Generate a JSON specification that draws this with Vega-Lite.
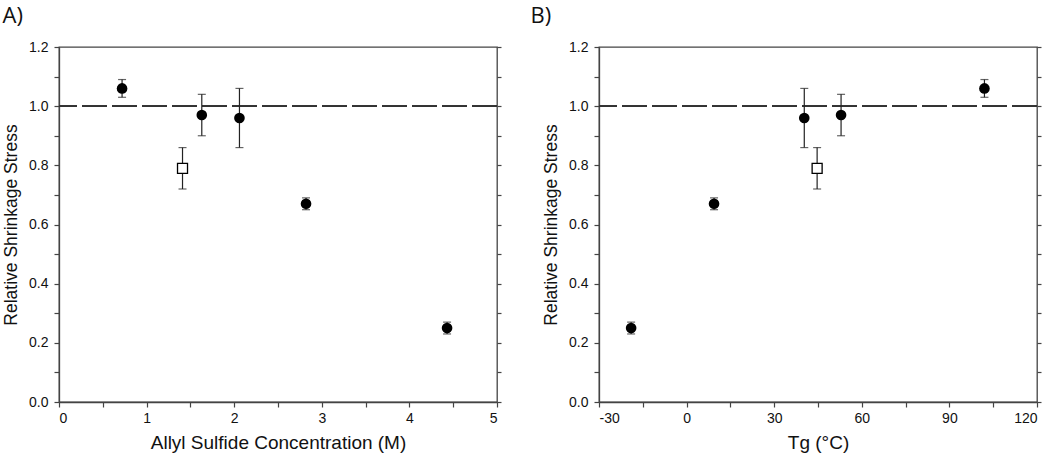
{
  "$schema": "https://vega.github.io/schema/vega-lite/v6.json",
  "background": "white",
  "padding": {"left": 1, "top": 4, "right": 0, "bottom": 2},
  "datasets": {
    "pts": [
      {"conc": 0.72, "tg": 102, "y": 1.06, "lo": 1.03, "hi": 1.09, "type": "filled"},
      {"conc": 1.41, "tg": 44.7, "y": 0.79, "lo": 0.72, "hi": 0.86, "type": "open"},
      {"conc": 1.63, "tg": 52.9, "y": 0.97, "lo": 0.90, "hi": 1.04, "type": "filled"},
      {"conc": 2.06, "tg": 40.3, "y": 0.96, "lo": 0.86, "hi": 1.06, "type": "filled"},
      {"conc": 2.82, "tg": 9.4, "y": 0.67, "lo": 0.65, "hi": 0.69, "type": "filled"},
      {"conc": 4.43, "tg": -19, "y": 0.25, "lo": 0.23, "hi": 0.27, "type": "filled"}
    ]
  },
  "config": {
    "view": {"stroke": "#444", "strokeWidth": 1.3},
    "axis": {
      "domainColor": "#444", "domainWidth": 1.3, "tickColor": "#444", "tickWidth": 1.2, "tickSize": 5,
      "labelFont": "Liberation Sans", "titleFont": "Liberation Sans",
      "labelFontSize": 14, "titleFontSize": 17.5, "titleFontWeight": "normal",
      "labelColor": "#111", "titleColor": "#111", "grid": false, "labelPadding": 3
    },
    "axisLeft": {"labelPadding": 6, "titlePadding": 8},
    "axisX": {"titleFontSize": 19, "titlePadding": 8, "labelPadding": 4},
    "title": {"font": "Open Sans", "fontSize": 22, "fontWeight": "normal", "anchor": "start", "frame": "bounds", "color": "#111", "offset": 12},
    "concat": {"spacing": 26}
  },
  "hconcat": [
    {
      "title": {"text": "A)"},
      "width": 438, "height": 355,
      "data": {"name": "pts"},
      "layer": [
        {
          "mark": {"type": "rule", "strokeDash": [25, 5], "color": "#333", "strokeWidth": 1.3},
          "encoding": {
            "y": {"datum": 1, "type": "quantitative", "scale": {"domain": [0, 1.2], "nice": false, "zero": false},
              "axis": {"orient": "right", "labels": false, "title": null, "domain": false, "tickSize": 4,
                "values": [0, 0.1, 0.2, 0.3, 0.4, 0.5, 0.6, 0.7, 0.8, 0.9, 1.0, 1.1, 1.2]}}
          }
        },
        {
          "mark": {"type": "errorbar", "color": "#222", "rule": {"strokeWidth": 1.2}, "ticks": {"size": 8, "thickness": 1.2}},
          "encoding": {
            "x": {"field": "conc", "type": "quantitative", "scale": {"domain": [0, 5], "nice": false, "zero": false},
              "axis": {"title": "Allyl Sulfide Concentration (M)", "values": [0, 0.5, 1, 1.5, 2, 2.5, 3, 3.5, 4, 4.5, 5],
                "labelExpr": "datum.value % 1 == 0 ? '' + datum.value : ''"}},
            "y": {"field": "lo", "type": "quantitative", "scale": {"domain": [0, 1.2], "nice": false, "zero": false},
              "axis": {"orient": "left", "title": "Relative Shrinkage Stress", "values": [0, 0.1, 0.2, 0.3, 0.4, 0.5, 0.6, 0.7, 0.8, 0.9, 1.0, 1.1, 1.2],
                "labelExpr": "round(datum.value * 10) % 2 == 0 ? format(datum.value, '.1f') : ''"}},
            "y2": {"field": "hi"}
          }
        },
        {
          "transform": [{"filter": "datum.type == 'filled'"}],
          "mark": {"type": "point", "shape": "circle", "filled": true, "color": "#000", "size": 113, "opacity": 1},
          "encoding": {
            "x": {"field": "conc", "type": "quantitative", "scale": {"domain": [0, 5], "nice": false, "zero": false}},
            "y": {"field": "y", "type": "quantitative", "axis": null, "scale": {"domain": [0, 1.2], "nice": false, "zero": false}}
          }
        },
        {
          "transform": [{"filter": "datum.type == 'open'"}],
          "mark": {"type": "point", "shape": "square", "fill": "white", "stroke": "#000", "strokeWidth": 1.3, "size": 100, "opacity": 1, "filled": true},
          "encoding": {
            "x": {"field": "conc", "type": "quantitative", "scale": {"domain": [0, 5], "nice": false, "zero": false}},
            "y": {"field": "y", "type": "quantitative", "axis": null, "scale": {"domain": [0, 1.2], "nice": false, "zero": false}}
          }
        }
      ],
      "resolve": {"axis": {"y": "independent"}}
    },
    {
      "title": {"text": "B)", "dx": -12},
      "width": 438, "height": 355,
      "data": {"name": "pts"},
      "layer": [
        {
          "mark": {"type": "rule", "strokeDash": [25, 5], "color": "#333", "strokeWidth": 1.3},
          "encoding": {
            "y": {"datum": 1, "type": "quantitative", "scale": {"domain": [0, 1.2], "nice": false, "zero": false},
              "axis": {"orient": "right", "labels": false, "title": null, "domain": false, "tickSize": 4,
                "values": [0, 0.1, 0.2, 0.3, 0.4, 0.5, 0.6, 0.7, 0.8, 0.9, 1.0, 1.1, 1.2]}}
          }
        },
        {
          "mark": {"type": "errorbar", "color": "#222", "rule": {"strokeWidth": 1.2}, "ticks": {"size": 8, "thickness": 1.2}},
          "encoding": {
            "x": {"field": "tg", "type": "quantitative", "scale": {"domain": [-30, 120], "nice": false, "zero": false},
              "axis": {"title": "Tg (°C)", "values": [-30, -15, 0, 15, 30, 45, 60, 75, 90, 105, 120], "labelOverlap": false, "labelBound": false,
                "labelExpr": "datum.value % 30 == 0 ? '' + datum.value : ''"}},
            "y": {"field": "lo", "type": "quantitative", "scale": {"domain": [0, 1.2], "nice": false, "zero": false},
              "axis": {"orient": "left", "title": "Relative Shrinkage Stress", "values": [0, 0.1, 0.2, 0.3, 0.4, 0.5, 0.6, 0.7, 0.8, 0.9, 1.0, 1.1, 1.2],
                "labelExpr": "round(datum.value * 10) % 2 == 0 ? format(datum.value, '.1f') : ''"}},
            "y2": {"field": "hi"}
          }
        },
        {
          "transform": [{"filter": "datum.type == 'filled'"}],
          "mark": {"type": "point", "shape": "circle", "filled": true, "color": "#000", "size": 113, "opacity": 1},
          "encoding": {
            "x": {"field": "tg", "type": "quantitative", "scale": {"domain": [-30, 120], "nice": false, "zero": false}},
            "y": {"field": "y", "type": "quantitative", "axis": null, "scale": {"domain": [0, 1.2], "nice": false, "zero": false}}
          }
        },
        {
          "transform": [{"filter": "datum.type == 'open'"}],
          "mark": {"type": "point", "shape": "square", "fill": "white", "stroke": "#000", "strokeWidth": 1.3, "size": 100, "opacity": 1, "filled": true},
          "encoding": {
            "x": {"field": "tg", "type": "quantitative", "scale": {"domain": [-30, 120], "nice": false, "zero": false}},
            "y": {"field": "y", "type": "quantitative", "axis": null, "scale": {"domain": [0, 1.2], "nice": false, "zero": false}}
          }
        }
      ],
      "resolve": {"axis": {"y": "independent"}}
    }
  ]
}
